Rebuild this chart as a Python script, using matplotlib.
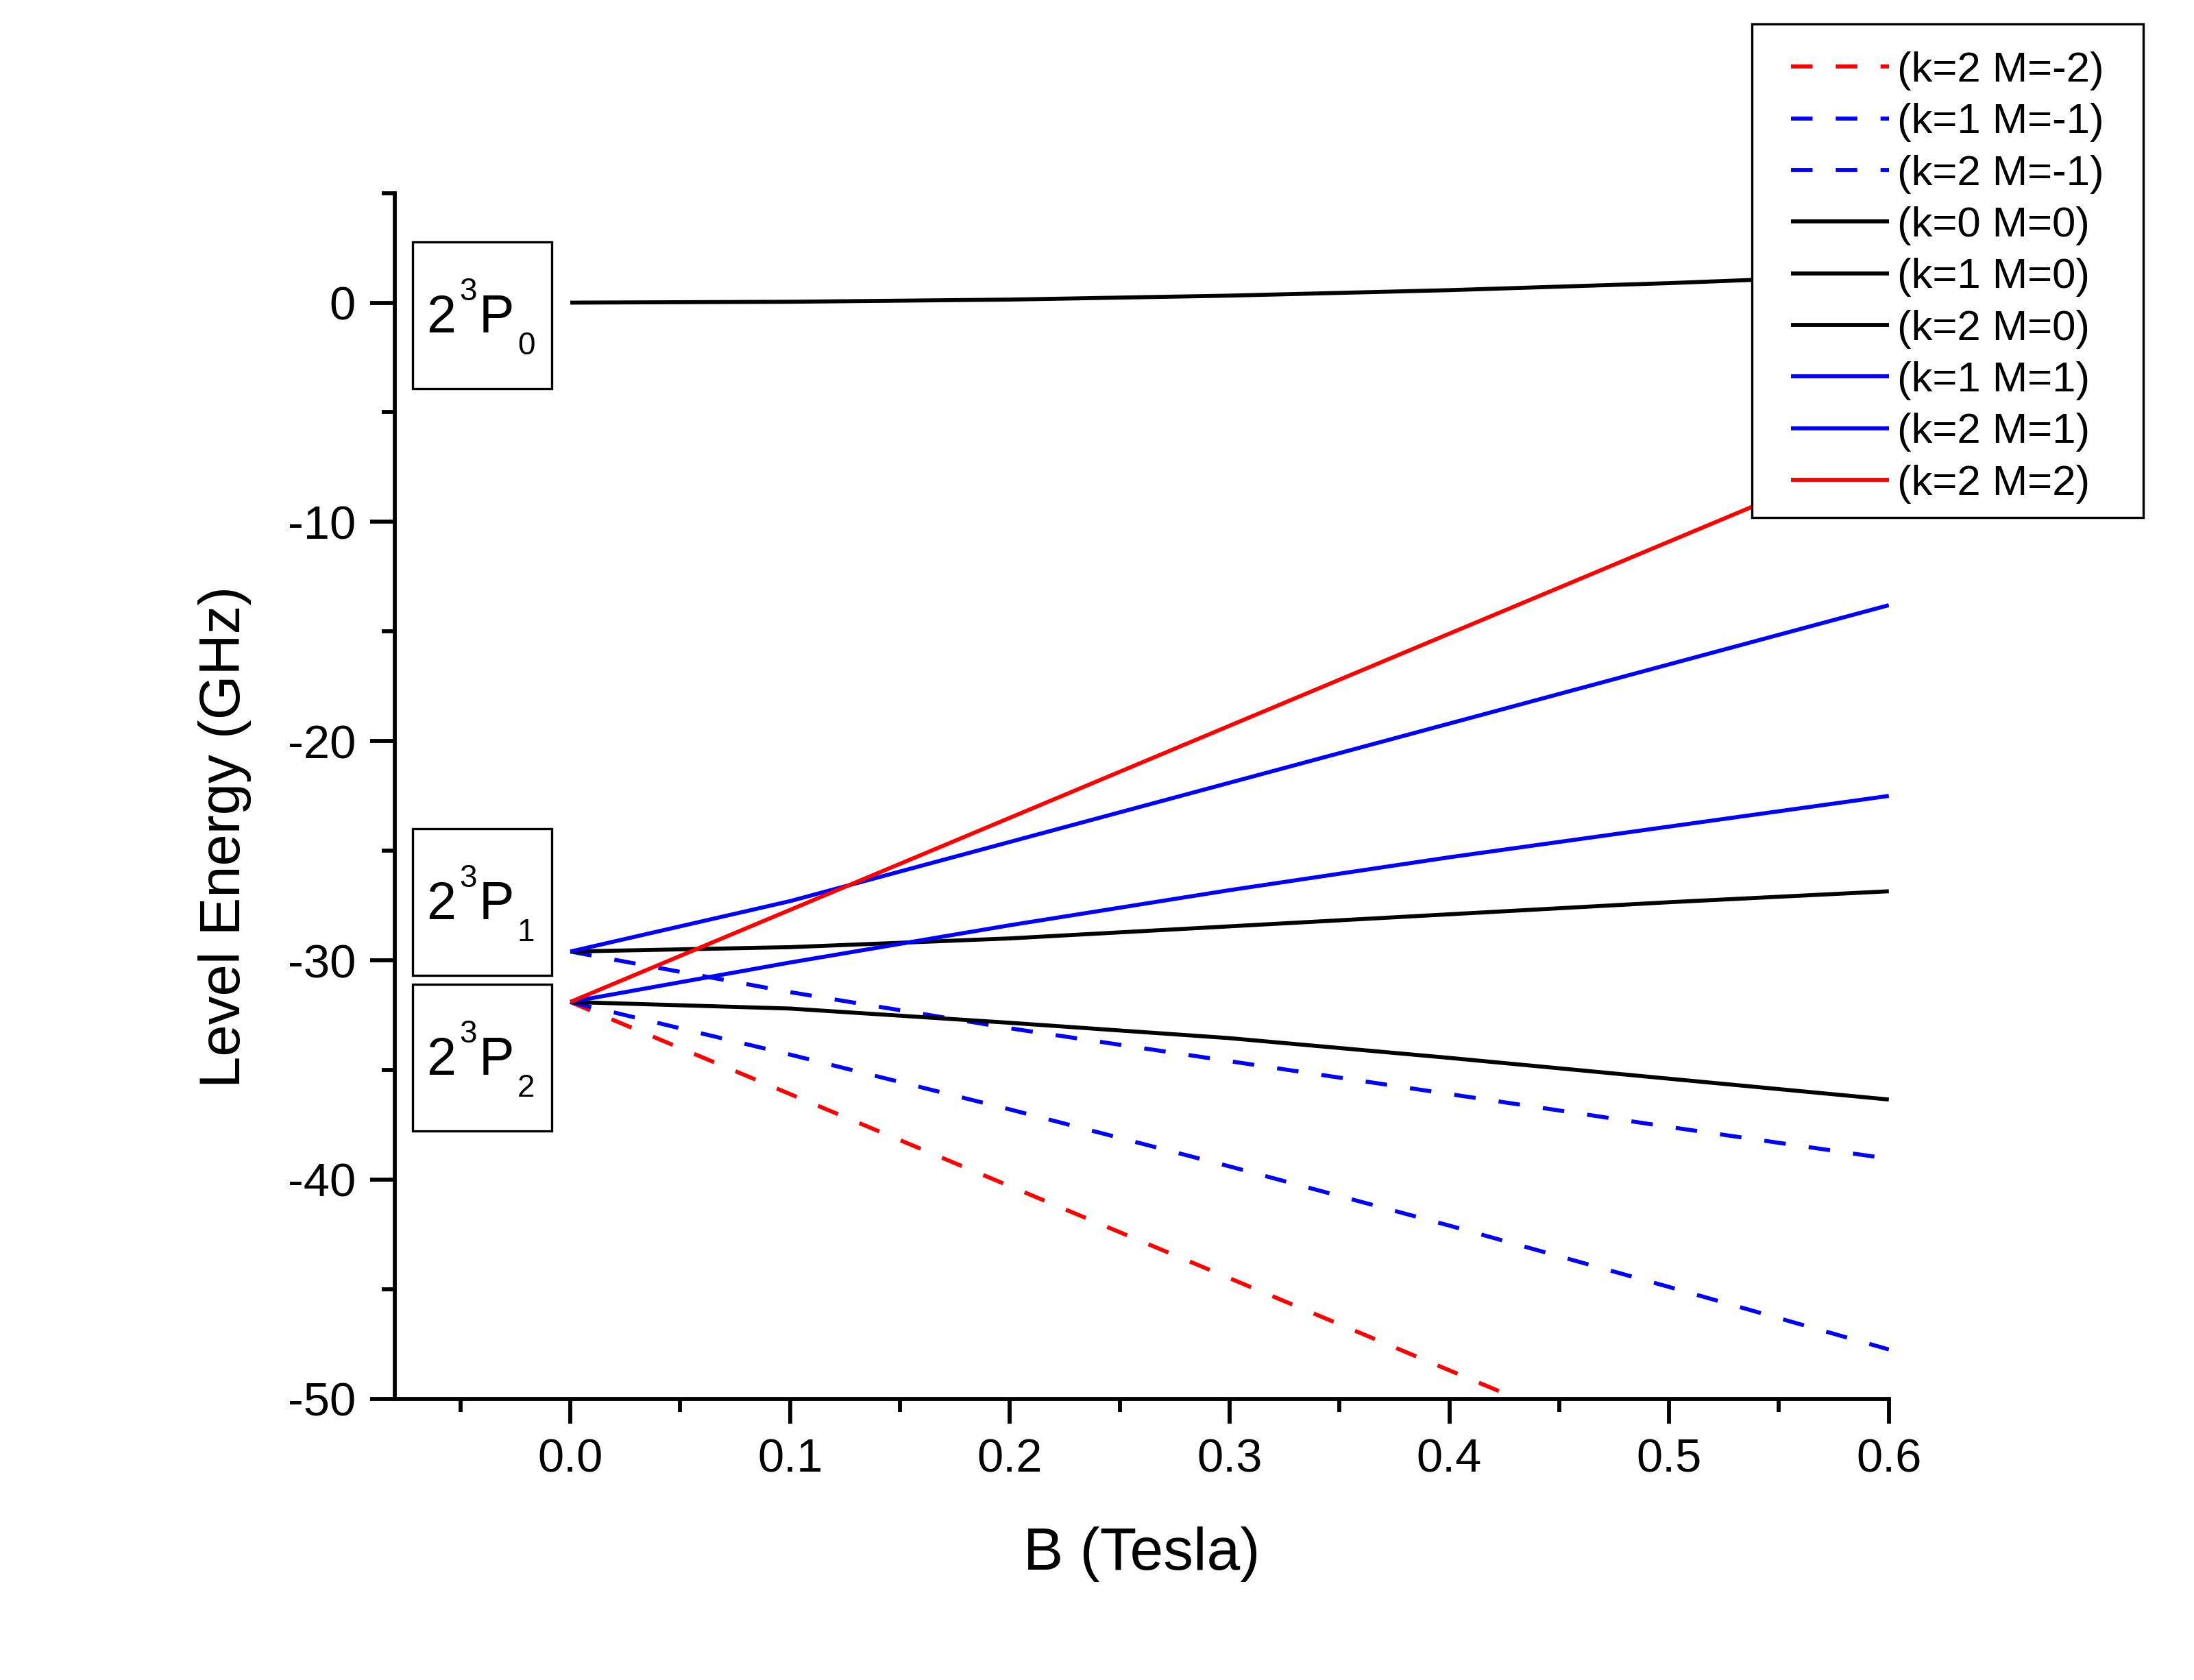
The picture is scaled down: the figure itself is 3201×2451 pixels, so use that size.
import matplotlib
matplotlib.use('Agg')
import matplotlib.pyplot as plt
from matplotlib.patches import Rectangle
from matplotlib.ticker import FixedLocator, FormatStrFormatter

# --- values (GHz vs Tesla) ---
B = [0.0, 0.1, 0.2, 0.3, 0.4, 0.5, 0.6]

k2_Mm2 = [-31.9, -36.1, -40.3, -44.5, -48.7, -52.9, -57.1]
k1_Mm1 = [-29.6, -31.45, -33.1, -34.6, -36.1, -37.6, -39.05]
k2_Mm1 = [-31.9, -34.3, -36.8, -39.4, -42.1, -44.9, -47.75]
k0_M0 = [0.0, 0.04, 0.14, 0.32, 0.57, 0.89, 1.28]
k1_M0 = [-29.6, -29.4, -29.0, -28.45, -27.9, -27.35, -26.85]
k2_M0 = [-31.9, -32.2, -32.85, -33.55, -34.45, -35.4, -36.35]
k1_M1 = [-29.6, -27.3, -24.6, -21.9, -19.2, -16.5, -13.8]
k2_M1 = [-31.9, -30.1, -28.4, -26.8, -25.3, -23.9, -22.5]
k2_M2 = [-31.9, -27.7, -23.5, -19.3, -15.1, -10.9, -6.7]

x_ticks = [0.0, 0.1, 0.2, 0.3, 0.4, 0.5, 0.6]
x_minor = [-0.05, 0.05, 0.15, 0.25, 0.35, 0.45, 0.55]
y_ticks = [0, -10, -20, -30, -40, -50]
y_minor = [5, -5, -15, -25, -35, -45]

levels = ['0', '1', '2']

plt.rcParams['font.family'] = 'Liberation Sans'
plt.rcParams['axes.unicode_minus'] = False

W, H = 3201, 2451
fig = plt.figure(figsize=(W / 300, H / 300), dpi=300)
ax = fig.add_axes([0.1798, 0.1674, 0.6811, 0.7177])

dash = (0, (5.4, 5.8))
series = [
    (k2_Mm2, 'red', dash, '(k=2 M=-2)'),
    (k1_Mm1, 'blue', dash, '(k=1 M=-1)'),
    (k2_Mm1, 'blue', dash, '(k=2 M=-1)'),
    (k0_M0, 'black', '-', '(k=0 M=0)'),
    (k1_M0, 'black', '-', '(k=1 M=0)'),
    (k2_M0, 'black', '-', '(k=2 M=0)'),
    (k1_M1, 'blue', '-', '(k=1 M=1)'),
    (k2_M1, 'blue', '-', '(k=2 M=1)'),
    (k2_M2, 'red', '-', '(k=2 M=2)'),
]
for vals, col, ls, lab in series:
    ax.plot(B, vals, color=col, linestyle=ls, lw=1.4, label=lab,
            dash_capstyle='butt', solid_capstyle='butt')

ax.set_xlim(-0.08, 0.6)
ax.set_ylim(-50, 5)
ax.spines['top'].set_visible(False)
ax.spines['right'].set_visible(False)
for s in ('left', 'bottom'):
    ax.spines[s].set_linewidth(1.4)

ax.xaxis.set_major_locator(FixedLocator(x_ticks))
ax.xaxis.set_minor_locator(FixedLocator(x_minor))
ax.xaxis.set_major_formatter(FormatStrFormatter('%.1f'))
ax.yaxis.set_major_locator(FixedLocator(y_ticks))
ax.yaxis.set_minor_locator(FixedLocator(y_minor))
ax.yaxis.set_major_formatter(FormatStrFormatter('%d'))
ax.tick_params(which='major', direction='out', length=8.6, width=1.4,
               labelsize=16.5, pad=5, top=False, right=False)
ax.tick_params(which='minor', direction='out', length=4.6, width=1.4,
               top=False, right=False)

ax.set_xlabel('B (Tesla)', fontsize=21)
ax.set_ylabel('Level Energy (GHz)', fontsize=20)
ax.xaxis.set_label_coords(0.5, -0.106)
ax.yaxis.set_label_coords(-0.0957, 0.466)

# legend: white frame drawn by hand, entries on top of it
fig.add_artist(Rectangle((0.7985, 0.6919), 0.1785, 0.2939, transform=fig.transFigure,
                         facecolor='white', edgecolor='black', lw=0.8, zorder=4))
handles, labels = ax.get_legend_handles_labels()
fig.legend(handles, labels, loc='upper left', bbox_to_anchor=(0.8163, 0.9695),
           frameon=False, fontsize=14.8, handlelength=2.32, handletextpad=0.2,
           labelspacing=0.298, borderpad=0, borderaxespad=0)


# term boxes 2^3P_J (positions in figure pixels from the top-left)
def level_box(top, j):
    fig.add_artist(Rectangle((602 / W, 1 - (top + 214) / H), 203 / W, 214 / H,
                             transform=fig.transFigure, fill=False,
                             edgecolor='black', lw=0.8))
    fig.text(622 / W, 1 - (top + 132) / H, '2', fontsize=18.5, va='baseline')
    fig.text(670 / W, 1 - (top + 85) / H, '3', fontsize=11, va='baseline')
    fig.text(699 / W, 1 - (top + 132) / H, 'P', fontsize=18.5, va='baseline')
    fig.text(755 / W, 1 - (top + 164) / H, j, fontsize=11, va='baseline')


for top, j in zip([353, 1209, 1436], levels):
    level_box(top, j)

fig.savefig('out.png', dpi=300)
